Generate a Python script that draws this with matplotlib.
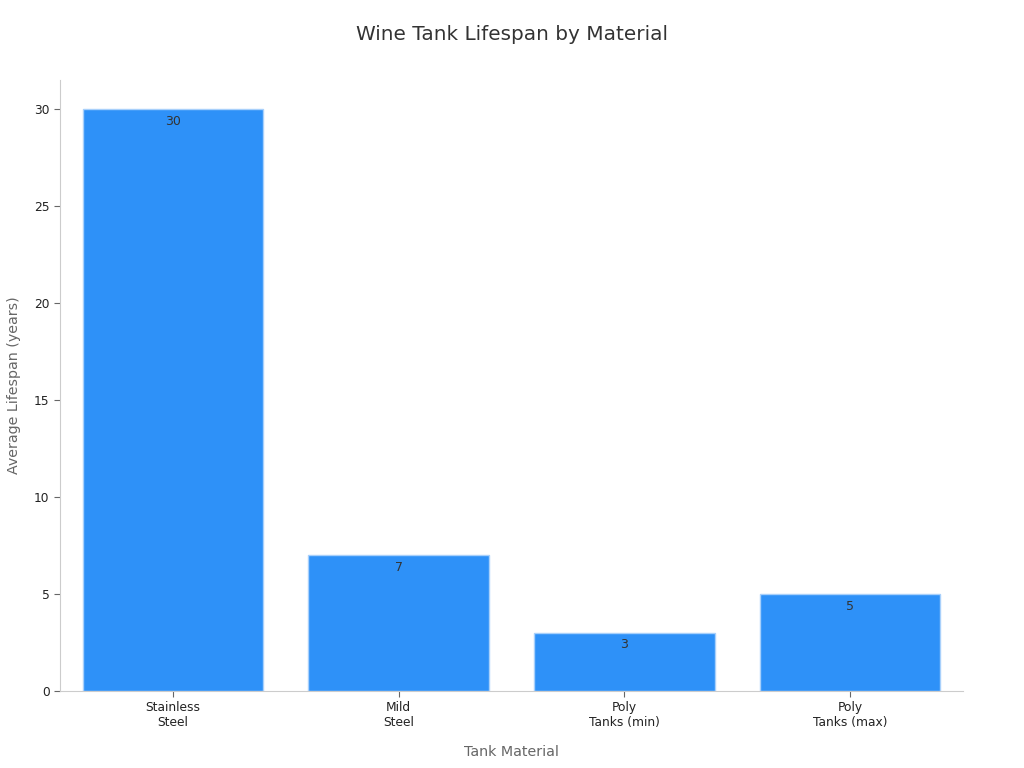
import matplotlib
matplotlib.use("Agg")
import matplotlib.pyplot as plt

categories = ["Stainless\nSteel", "Mild\nSteel", "Poly\nTanks (min)", "Poly\nTanks (max)"]
lifespans = [30, 7, 3, 5]

fig = plt.figure(figsize=(10.24, 7.68), dpi=100)
ax = fig.add_axes([0.0586, 0.1003, 0.8818, 0.7955])

x = list(range(len(categories)))
bars = ax.bar(x, lifespans, width=0.8, color="#2e91f8", edgecolor="#a8d0fb", linewidth=1.0)
for xi, v in zip(x, lifespans):
    ax.annotate(str(v), (xi, v), xytext=(0, -4), textcoords="offset points",
                ha="center", va="top", fontsize=9, color="#333333")

ax.set_xlim(-0.5, 3.5)
ax.set_ylim(0, 31.5)
ax.set_xticks(x)
ax.set_xticklabels(categories, fontsize=8.8, color="#222222")
ax.set_yticks([0, 5, 10, 15, 20, 25, 30])
ax.tick_params(axis="y", labelsize=8.8, colors="#222222")
ax.tick_params(axis="both", color="#666666", length=4)
for s in ["top", "right"]:
    ax.spines[s].set_visible(False)
for s in ["left", "bottom"]:
    ax.spines[s].set_color("#cccccc")
ax.set_xlabel("Tank Material", fontsize=10.3, color="#666666", labelpad=11)
ax.set_ylabel("Average Lifespan (years)", fontsize=10.3, color="#666666", labelpad=9)
fig.suptitle("Wine Tank Lifespan by Material", fontsize=14.4, color="#333333", y=0.968)

fig.savefig("out.png", dpi=100)
